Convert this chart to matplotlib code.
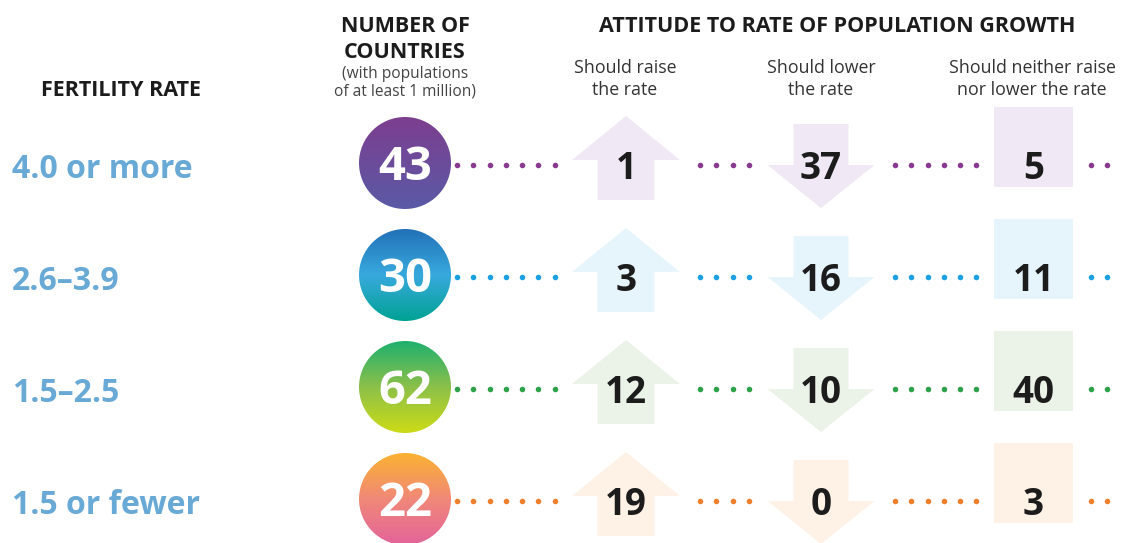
import numpy as np
import matplotlib
matplotlib.use('Agg')
import matplotlib.pyplot as plt
from matplotlib.patches import Polygon, Rectangle, Circle
from matplotlib.colors import to_rgb

plt.rcParams['font.family'] = ['Open Sans', 'DejaVu Sans']

# Data
fertility = ['4.0 or more', '2.6–3.9', '1.5–2.5', '1.5 or fewer']
countries = [43, 30, 62, 22]
raise_rate = [1, 3, 12, 19]
lower_rate = [37, 16, 10, 0]
neither = [5, 11, 40, 3]

# Row colours
dot_colors = ['#8a3a8e', '#1ba0e2', '#2ea14a', '#f07f2c']
light_colors = ['#f0e8f4', '#e6f4fc', '#ebf2e8', '#fef1e6']
gradients = [
    ['#7d3e8f', '#5a5aa6'],
    ['#2271b8', '#38a9dd', '#00a294'],
    ['#1fb06e', '#8cc04a', '#ccdb16'],
    ['#fbb232', '#f08878', '#e3649a'],
]

W, H = 1122, 543
fig = plt.figure(figsize=(W / 100, H / 100), dpi=100)
ax = fig.add_axes([0, 0, 1, 1])
ax.set_xlim(0, W)
ax.set_ylim(H, 0)
ax.axis('off')

row_y = [165, 277, 389, 501]
label_blue = '#68a9d6'
dark = '#1c1c1c'

# headers
ax.text(121, 91, 'FERTILITY RATE', fontsize=15.5, fontweight='bold', color=dark,
        ha='center', va='center')
ax.text(405, 27, 'NUMBER OF', fontsize=15.5, fontweight='bold', color=dark, ha='center', va='center')
ax.text(405, 52, 'COUNTRIES', fontsize=15.5, fontweight='bold', color=dark, ha='center', va='center')
ax.text(405, 74, '(with populations', fontsize=11.2, color='#444444', ha='center', va='center')
ax.text(405, 92, 'of at least 1 million)', fontsize=11.2, color='#444444', ha='center', va='center')
ax.text(837, 27, 'ATTITUDE TO RATE OF POPULATION GROWTH', fontsize=15.5, fontweight='bold',
        color=dark, ha='center', va='center')
subs = [(625, 'Should raise', 'the rate'), (821, 'Should lower', 'the rate'),
        (1032, 'Should neither raise', 'nor lower the rate')]
for x, a, b in subs:
    ax.text(x, 68, a, fontsize=12.8, color='#333333', ha='center', va='center')
    ax.text(x, 90, b, fontsize=12.8, color='#333333', ha='center', va='center')

# dotted segments
segments = [(457, 556), (700, 752), (895, 978), (1091, 1114)]
step = 16.3

for i, cy in enumerate(row_y):
    # label
    ax.text(12, cy + 4, fertility[i], fontsize=23, fontweight='bold', color=label_blue,
            ha='left', va='center')

    # dots
    for a, b in segments:
        xs = np.arange(a, b + 0.1, step)
        ax.scatter(xs, [cy] * len(xs), s=16, color=dot_colors[i], lw=0, zorder=1)

    # gradient circle
    cx, r = 405, 46
    cols = [np.array(to_rgb(c)) for c in gradients[i]]
    n = 200
    t = np.linspace(0, 1, n)
    grad = np.zeros((n, 1, 3))
    seg = len(cols) - 1
    for k in range(n):
        pos = t[k] * seg
        j = min(int(pos), seg - 1)
        f = pos - j
        grad[k, 0] = cols[j] * (1 - f) + cols[j + 1] * f
    im = ax.imshow(grad, extent=(cx - r, cx + r, cy - 2 + r, cy - 2 - r), origin='upper',
                   aspect='auto', zorder=2, interpolation='bilinear')
    clip = Circle((cx, cy - 2), r, transform=ax.transData)
    im.set_clip_path(clip)
    ax.text(cx, cy + 3, str(countries[i]), fontsize=34, fontweight='bold', color='white',
            ha='center', va='center', zorder=3)

    # up arrow
    ux = 626
    up = [(ux, cy - 49), (ux + 54, cy - 5), (ux + 28.5, cy - 5), (ux + 28.5, cy + 35),
          (ux - 28.5, cy + 35), (ux - 28.5, cy - 5), (ux - 54, cy - 5)]
    ax.add_patch(Polygon(up, closed=True, fc=light_colors[i], ec='none', zorder=2))
    ax.text(ux, cy + 4, str(raise_rate[i]), fontsize=26.5, fontweight='bold', color=dark,
            ha='center', va='center', zorder=3)

    # down arrow
    dx = 821
    down = [(dx - 27.5, cy - 41), (dx + 27.5, cy - 41), (dx + 27.5, cy), (dx + 53.5, cy),
            (dx, cy + 43), (dx - 53.5, cy), (dx - 27.5, cy)]
    ax.add_patch(Polygon(down, closed=True, fc=light_colors[i], ec='none', zorder=2))
    ax.text(dx, cy + 4, str(lower_rate[i]), fontsize=26.5, fontweight='bold', color=dark,
            ha='center', va='center', zorder=3)

    # square
    ax.add_patch(Rectangle((994, cy - 58), 79, 80, fc=light_colors[i], ec='none', zorder=2))
    ax.text(1033.5, cy + 4, str(neither[i]), fontsize=26.5, fontweight='bold', color=dark,
            ha='center', va='center', zorder=3)

plt.savefig('out.png', dpi=100)
